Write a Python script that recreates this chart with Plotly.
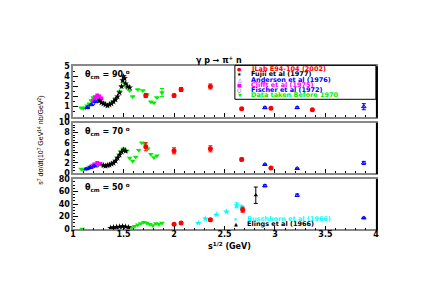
import plotly.graph_objects as go

# ---------------- data ----------------
# theta = 90 deg
jlab90_x = [1.72, 2.00, 2.07, 2.36, 2.67, 2.96, 3.37]
jlab90_y = [2.1, 2.1, 2.7, 3.0, 0.8, 0.85, 0.7]
jlab90_e = [0.2, 0.15, 0.2, 0.25, 0.06, 0.06, 0.05]
fujii90_x = [1.26, 1.28, 1.30, 1.32, 1.34, 1.36, 1.38, 1.40, 1.42, 1.44, 1.46, 1.48, 1.49, 1.50, 1.51, 1.52, 1.54, 1.56]
fujii90_y = [1.6, 1.4, 1.3, 1.2, 1.1, 1.2, 1.3, 1.5, 1.7, 2.0, 2.4, 3.0, 3.6, 4.0, 3.8, 3.3, 3.0, 2.9]
and90_x = [1.14, 1.18, 1.22, 2.90, 3.22, 3.88]
and90_y = [0.9, 1.2, 1.5, 0.9, 0.9, 1.0]
and90_e = [0.05, 0.05, 0.05, 0.08, 0.08, 0.3]
clifft90_x = [1.20, 1.22, 1.24, 1.26, 1.28]
clifft90_y = [1.6, 1.9, 2.1, 2.0, 1.8]
fischer90_x = [1.15, 1.20, 1.25]
fischer90_y = [1.0, 1.3, 1.6]
old90_x = [1.08, 1.10, 1.12, 1.14, 1.16, 1.18, 1.20, 1.22, 1.24, 1.26, 1.30, 1.34, 1.38, 1.42, 1.46, 1.48,
           1.50, 1.53, 1.56, 1.59, 1.64, 1.69, 1.73, 1.77, 1.80, 1.83, 1.88]
old90_y = [0.9, 0.85, 0.9, 1.1, 1.3, 1.6, 1.9, 2.0, 1.9, 1.7, 1.4, 1.2, 1.4, 1.8, 2.5, 3.0,
           3.4, 2.9, 2.6, 2.0, 2.7, 2.6, 2.2, 1.5, 1.4, 1.9, 2.4]
old90_e = [0, 0, 0, 0, 0, 0, 0, 0, 0, 0, 0, 0, 0, 0, 0, 0, 0, 0, 0, 0, 0, 0, 0, 0, 0, 0, 0.4]

# theta = 70 deg
jlab70_x = [1.72, 2.00, 2.36, 2.67, 2.96]
jlab70_y = [5.2, 4.4, 4.8, 2.7, 1.0]
jlab70_e = [0.8, 0.6, 0.6, 0.3, 0.15]
fujii70_x = [1.30, 1.32, 1.34, 1.36, 1.38, 1.40, 1.42, 1.44, 1.46, 1.48, 1.50, 1.52]
fujii70_y = [1.5, 1.4, 1.5, 1.6, 1.8, 2.0, 2.4, 3.0, 3.6, 4.2, 4.6, 4.4]
and70_x = [1.13, 1.17, 1.21, 2.90, 3.22, 3.88]
and70_y = [0.8, 1.1, 1.4, 1.7, 0.9, 2.0]
and70_e = [0.05, 0.05, 0.05, 0.1, 0.1, 0.3]
clifft70_x = [1.18, 1.21, 1.24, 1.27]
clifft70_y = [1.3, 1.7, 2.0, 1.8]
fischer70_x = [1.16, 1.20, 1.24]
fischer70_y = [1.0, 1.3, 1.5]
old70_x = [1.08, 1.10, 1.13, 1.16, 1.20, 1.24, 1.28, 1.32, 1.36, 1.40, 1.44, 1.47, 1.50, 1.53,
           1.56, 1.59, 1.62, 1.65, 1.68, 1.71, 1.74, 1.77, 1.80, 1.83]
old70_y = [0.8, 0.7, 0.9, 1.2, 1.6, 1.8, 1.7, 1.5, 1.6, 2.0, 3.0, 4.2, 4.8, 4.3,
           3.0, 2.4, 3.2, 4.5, 6.0, 5.8, 4.8, 3.7, 3.1, 3.4]

# theta = 50 deg
jlab50_x = [2.00, 2.07, 2.36, 2.68]
jlab50_y = [8, 10, 15, 31]
jlab50_e = [1.5, 1.5, 2.0, 4.0]
fujii50_x = [1.37, 1.40, 1.43, 1.46, 1.49, 1.52, 1.55]
fujii50_y = [2, 3, 3.5, 4, 4.5, 4, 3]
and50_x = [2.90, 3.22, 3.88]
and50_y = [69, 54, 18]
and50_e = [1.5, 2.0, 1.0]
old50_x = [1.09, 1.58, 1.61, 1.64, 1.67, 1.70, 1.73, 1.76, 1.79, 1.82, 1.85, 1.88]
old50_y = [0.5, 3, 5, 7, 9, 11, 10, 8, 6, 9, 8, 10]
busch50_x = [2.24, 2.31, 2.42, 2.52, 2.62, 2.67]
busch50_y = [10, 17, 23, 28, 38, 35]
busch50_e = [0, 0, 0, 0, 4, 3]
elings50_x = [2.81]
elings50_y = [54]
elings50_e = [13]

legend_names = ["JLab E94-104 (2002)", "Fujii et al (1977)", "Anderson et al (1976)",
                "Clifft et al (1975)", "Fischer et al (1972)", "Data taken Before 1970"]
legend2_names = ["Buschhorn et al (1966)", "Elings et al (1966)"]
panel_labels = ["90", "70", "50"]
y_ticks = [[0, 1, 2, 3, 4, 5], [0, 2, 4, 6, 8, 10], [0, 20, 40, 60, 80]]
y_ranges = [[0, 5], [0, 10], [0, 80]]
x_ticks = [1, 1.5, 2, 2.5, 3, 3.5, 4]

# --------------- style ---------------
RED, BLACK, BLUE, MAG, GREEN, CYAN = "#ff0000", "#000000", "#0000ff", "#ff00ff", "#00ee00", "#00ffff"
W, H = 436, 300
XL, XR = 63, 370
panels_px = [(56, 108), (114, 166), (172, 224)]  # top, bottom in px
FONT = "DejaVu Sans, Liberation Sans, sans-serif"


def px2x(p):
    return p / W


def px2y(p):
    return 1 - p / H


fig = go.Figure()


def add(xs, ys, row, color, symbol, size=4, err=None):
    axis = "" if row == 1 else str(row)
    tr = go.Scatter(
        x=xs, y=ys, mode="markers", xaxis="x" + axis, yaxis="y" + axis,
        marker=dict(color=color, symbol=symbol, size=size,
                    line=dict(color=color, width=1 if "open" in symbol else 0)),
        showlegend=False, hoverinfo="skip",
    )
    if err is not None:
        tr.error_y = dict(type="data", array=err, color=color, thickness=1, width=2)
    fig.add_trace(tr)


# panel 1 (90)
add(old90_x, old90_y, 1, GREEN, "triangle-down", 5, old90_e)
add(fischer90_x, fischer90_y, 1, BLUE, "circle-open", 3)
add(clifft90_x, clifft90_y, 1, MAG, "square", 4)
add(and90_x, and90_y, 1, BLUE, "triangle-up-open", 4, and90_e)
add(fujii90_x, fujii90_y, 1, BLACK, "star", 5)
add(jlab90_x, jlab90_y, 1, RED, "circle", 5, jlab90_e)
# panel 2 (70)
add(old70_x, old70_y, 2, GREEN, "triangle-down", 5)
add(fischer70_x, fischer70_y, 2, BLUE, "circle-open", 3)
add(clifft70_x, clifft70_y, 2, MAG, "square", 4)
add(and70_x, and70_y, 2, BLUE, "triangle-up-open", 4, and70_e)
add(fujii70_x, fujii70_y, 2, BLACK, "star", 5)
add(jlab70_x, jlab70_y, 2, RED, "circle", 5, jlab70_e)
# panel 3 (50)
add(old50_x, old50_y, 3, GREEN, "triangle-down", 5)
add(fujii50_x, fujii50_y, 3, BLACK, "star", 5)
add(busch50_x, busch50_y, 3, CYAN, "star", 5, busch50_e)
add(elings50_x, elings50_y, 3, BLACK, "triangle-up", 4, elings50_e)
add(and50_x, and50_y, 3, BLUE, "triangle-up-open", 4, and50_e)
add(jlab50_x, jlab50_y, 3, RED, "circle", 5, jlab50_e)

layout = dict(
    width=W, height=H, margin=dict(l=0, r=0, t=0, b=0),
    paper_bgcolor="white", plot_bgcolor="white",
    font=dict(family=FONT, color="black", size=8),
    showlegend=False,
)

shapes = []
annotations = []
for i, (top, bot) in enumerate(panels_px):
    n = "" if i == 0 else str(i + 1)
    layout["xaxis" + n] = dict(
        domain=[px2x(XL), px2x(XR)], range=[1, 4], anchor="y" + n,
        tickvals=x_ticks, ticks="inside", ticklen=4, tickcolor="black",
        showticklabels=(i == 2), tickfont=dict(size=8, weight="bold"),
        ticklabelstandoff=-4,
        minor=dict(dtick=0.1, ticks="inside", ticklen=2, tickcolor="black"),
        showgrid=False, zeroline=False, showline=True, mirror=True,
        linecolor="#888888", linewidth=1.5,
    )
    if i > 0:
        layout["xaxis" + n]["matches"] = "x"
    layout["yaxis" + n] = dict(
        domain=[px2y(bot), px2y(top)], range=y_ranges[i], anchor="x" + n,
        tickvals=y_ticks[i], ticks="inside", ticklen=5, tickcolor="black",
        tickfont=dict(size=8, weight="bold"),
        minor=dict(nticks=5, ticks="inside", ticklen=2, tickcolor="black"),
        showgrid=False, zeroline=False, showline=True, mirror=True,
        linecolor="#888888", linewidth=1.5,
    )
    # thick dark right border (ROOT frame shadow)
    shapes.append(dict(type="line", xref="paper", yref="paper",
                       x0=px2x(XR + 1), x1=px2x(XR + 1), y0=px2y(bot + 1), y1=px2y(top),
                       line=dict(color="black", width=2)))
    annotations.append(dict(
        xref="paper", yref="paper", x=px2x(XL + 10), y=px2y(top + 1),
        xanchor="left", yanchor="top", showarrow=False,
        text="<b>θ<sub>cm</sub> = " + panel_labels[i] + " <sup>o</sup></b>",
        font=dict(size=8, color="black"),
    ))

# legend box for panel 1
shapes.append(dict(type="rect", xref="paper", yref="paper",
                   x0=px2x(227), x1=px2x(XR), y0=px2y(90), y1=px2y(55),
                   line=dict(color="black", width=1), fillcolor="rgba(0,0,0,0)"))
leg_colors = [RED, BLACK, BLUE, MAG, BLUE, GREEN]
leg_syms = ["●", "★", "△", "■", "○", "▼"]
leg_y = [59, 64.4, 69.8, 75.2, 80.6, 86]
for name, col, sym, yy in zip(legend_names, leg_colors, leg_syms, leg_y):
    annotations.append(dict(xref="paper", yref="paper", x=px2x(232), y=px2y(yy),
                            xanchor="center", yanchor="middle", showarrow=False, borderpad=0,
                            text=sym, font=dict(size=5, color=col)))
    annotations.append(dict(xref="paper", yref="paper", x=px2x(242), y=px2y(yy),
                            xanchor="left", yanchor="middle", showarrow=False, borderpad=0,
                            text="<b>" + name + "</b>", font=dict(size=6.5, color=col)))

# legend for panel 3
leg2_colors = [CYAN, BLACK]
leg2_syms = ["★", "▲"]
leg2_y = [213.5, 219]
for name, col, sym, yy in zip(legend2_names, leg2_colors, leg2_syms, leg2_y):
    annotations.append(dict(xref="paper", yref="paper", x=px2x(228), y=px2y(yy),
                            xanchor="center", yanchor="middle", showarrow=False, borderpad=0,
                            text=sym, font=dict(size=5, color=col)))
    annotations.append(dict(xref="paper", yref="paper", x=px2x(238), y=px2y(yy),
                            xanchor="left", yanchor="middle", showarrow=False, borderpad=0,
                            text="<b>" + name + "</b>", font=dict(size=6.5, color=col)))

# titles
annotations.append(dict(xref="paper", yref="paper", x=px2x(211), y=px2y(50),
                        xanchor="center", yanchor="middle", showarrow=False,
                        text="<b>γ p → π<sup>+</sup> n</b>", font=dict(size=8)))
annotations.append(dict(xref="paper", yref="paper", x=px2x(245), y=px2y(241),
                        xanchor="right", yanchor="middle", showarrow=False,
                        text="<b>s<sup>1/2</sup> (GeV)</b>", font=dict(size=8)))
annotations.append(dict(xref="paper", yref="paper", x=px2x(30), y=px2y(132),
                        xanchor="center", yanchor="middle", showarrow=False, textangle=-90,
                        text="s<sup>7</sup> dσ/dt(10<sup>7</sup> GeV<sup>14</sup> nb/GeV<sup>2</sup>)",
                        font=dict(size=7, family="Liberation Sans, Arial, sans-serif")))

layout["shapes"] = shapes
layout["annotations"] = annotations
fig.update_layout(**layout)
fig.write_html("out.html")
